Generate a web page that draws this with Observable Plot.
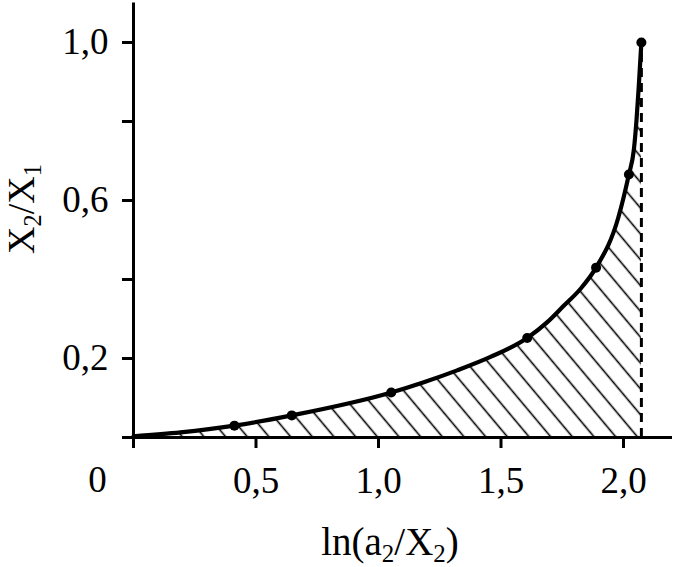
<!DOCTYPE html>
<html><head><meta charset="utf-8">
<script src="https://cdn.jsdelivr.net/npm/d3@7"></script>
<script src="https://cdn.jsdelivr.net/npm/@observablehq/plot@0.6"></script>
<style>body{margin:0;background:#fff} svg{display:block}</style>
</head><body><div id="chart"></div>
<script>
// measured points (dots)
const pointX = [0.412, 0.646, 1.052, 1.607, 1.888, 2.022, 2.073];
const pointY = [0.030, 0.056, 0.114, 0.252, 0.430, 0.666, 1.000];
// curve trace
const curveX = [0.0, 0.192, 0.412, 0.646, 1.052, 1.185, 1.321, 1.457, 1.607, 1.689, 1.757, 1.824, 1.888, 1.978, 2.022, 2.042, 2.053, 2.062, 2.073];
const curveY = [0.003, 0.013, 0.030, 0.056, 0.114, 0.140, 0.170, 0.204, 0.252, 0.292, 0.334, 0.376, 0.430, 0.555, 0.666, 0.727, 0.803, 0.886, 1.000];
const upperLimit = 2.073;
const yTickValues = [0, 0.2, 0.4, 0.6, 0.8, 1.0];
const yTickLabels = ["", "0,2", "", "0,6", "", "1,0"];
const xTickValues = [0, 0.5, 1.0, 1.5, 2.0];
const xTickLabels = ["", "0,5", "1,0", "1,5", "2,0"];
const originLabel = "0";

const points = pointX.map((x, i) => ({x, y: pointY[i]}));
const curve = curveX.map((x, i) => ({x, y: curveY[i]}));

const font = "Liberation Serif, Times New Roman, serif";
const fs = 37;
const tfs = 38;

const svg = Plot.plot({
  width: 673,
  height: 567,
  marginLeft: 133,
  marginRight: 1,
  marginTop: 2.5,
  marginBottom: 130,
  style: {fontFamily: font, color: "#000", background: "#fff", overflow: "visible"},
  x: {domain: [0, 2.2]},
  y: {domain: [0, 1.1]},
  marks: [
    Plot.areaY(curve, {x: "x", y: "y", fill: "url(#hatch)", curve: "monotone-x"}),
    Plot.ruleX([upperLimit], {y1: 0, y2: 1.0, stroke: "#000", strokeWidth: 3, strokeDasharray: "9,6"}),
    Plot.line(curve, {x: "x", y: "y", curve: "monotone-x", stroke: "#000", strokeWidth: 4.2}),
    Plot.dot(points, {x: "x", y: "y", r: 5, fill: "#000", stroke: "none"}),
    Plot.ruleY([0], {stroke: "#000", strokeWidth: 3}),
    Plot.ruleX([0], {stroke: "#000", strokeWidth: 3}),
    Plot.axisY({ticks: yTickValues, tickFormat: (d, i) => yTickLabels[i], tickSize: 11, tickPadding: 14,
      strokeWidth: 3, fontSize: fs, label: null}),
    Plot.axisX({ticks: xTickValues, tickFormat: (d, i) => xTickLabels[i], tickSize: 11, tickPadding: 18,
      strokeWidth: 3, fontSize: fs, label: null}),
    Plot.text([originLabel], {x: () => 0, y: () => 0, text: d => d, dx: -36, dy: 43, fontSize: fs})
  ]
});

const s = d3.select(svg);
const defs = s.insert("defs", ":first-child");
const pat = defs.append("pattern").attr("id", "hatch").attr("patternUnits", "userSpaceOnUse")
  .attr("width", 16.6).attr("height", 20).attr("patternTransform", "rotate(-40)");
pat.append("line").attr("x1", 8.3).attr("y1", -1).attr("x2", 8.3).attr("y2", 21)
  .attr("stroke", "#000").attr("stroke-width", 1.6);

// axis titles with subscripts
const sub = 0.64;
const xl = s.append("text").attr("x", 390).attr("y", 555).attr("text-anchor", "middle")
  .attr("font-family", font).attr("font-size", tfs + 1).attr("fill", "#000");
xl.append("tspan").text("ln(a");
xl.append("tspan").attr("font-size", (tfs + 1) * sub).attr("dy", 7).text("2");
xl.append("tspan").attr("dy", -7).text("/X");
xl.append("tspan").attr("font-size", (tfs + 1) * sub).attr("dy", 7).text("2");
xl.append("tspan").attr("dy", -7).text(")");

const yl = s.append("text").attr("transform", "translate(34,209) rotate(-90)").attr("text-anchor", "middle")
  .attr("font-family", font).attr("font-size", tfs).attr("fill", "#000");
yl.append("tspan").text("X");
yl.append("tspan").attr("font-size", tfs * sub).attr("dy", 7).text("2");
yl.append("tspan").attr("dy", -7).text("/X");
yl.append("tspan").attr("font-size", tfs * sub).attr("dy", 7).text("1");

document.getElementById("chart").appendChild(svg);
</script>
</body></html>
